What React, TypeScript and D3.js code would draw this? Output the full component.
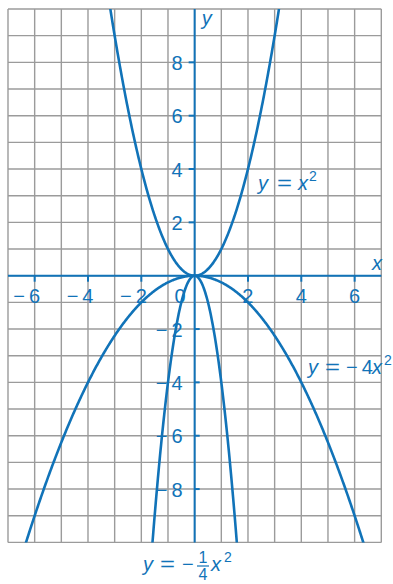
import * as d3 from "d3";
import { useEffect, useRef } from "react";

// axis ranges and tick labels
const xDomain = [-7, 7];
const yDomain = [-10, 10];
const xTickValues = [-6, -4, -2, 0, 2, 4, 6];
const yTickValues = [-8, -6, -4, -2, 2, 4, 6, 8];

// the three parabolas y = a * x^2
const curveCoefficients = [1, -1 / 4, -4];

const BLUE = "#1173b8";
const GRID = "#9b9b9b";
const FONT = "'Liberation Sans', Arial, Helvetica, sans-serif";

const fmt = (d: number) => (d < 0 ? "\u2212\u2009" + Math.abs(d) : String(d));

const App = () => {
  const svgRef = useRef<SVGSVGElement | null>(null);

  useEffect(() => {
    const svg = d3.select(svgRef.current);
    svg.selectAll("*").remove();

    // plot box
    const left = 8,
      right = 381.3,
      top = 9,
      bottom = 542.4;

    const x = d3.scaleLinear().domain(xDomain).range([left, right]);
    const y = d3.scaleLinear().domain(yDomain).range([bottom, top]);

    svg
      .append("defs")
      .append("clipPath")
      .attr("id", "plot-clip")
      .append("rect")
      .attr("x", left)
      .attr("y", top)
      .attr("width", right - left)
      .attr("height", bottom - top);

    // grid, one line per unit
    const grid = svg.append("g").attr("stroke", GRID).attr("stroke-width", 1.4);
    grid
      .selectAll("line.v")
      .data(d3.range(xDomain[0], xDomain[1] + 1))
      .enter()
      .append("line")
      .attr("x1", (d) => x(d))
      .attr("x2", (d) => x(d))
      .attr("y1", top)
      .attr("y2", bottom);
    grid
      .selectAll("line.h")
      .data(d3.range(yDomain[0], yDomain[1] + 1))
      .enter()
      .append("line")
      .attr("x1", left)
      .attr("x2", right)
      .attr("y1", (d) => y(d))
      .attr("y2", (d) => y(d));

    // axes
    const axes = svg.append("g").attr("stroke", BLUE).attr("stroke-width", 2);
    axes.append("line").attr("x1", left).attr("x2", right).attr("y1", y(0)).attr("y2", y(0));
    axes.append("line").attr("x1", x(0)).attr("x2", x(0)).attr("y1", top).attr("y2", bottom);

    // tick marks
    axes
      .selectAll("line.xt")
      .data(xTickValues.filter((d) => d !== 0))
      .enter()
      .append("line")
      .attr("x1", (d) => x(d))
      .attr("x2", (d) => x(d))
      .attr("y1", y(0))
      .attr("y2", y(0) + 6);
    axes
      .selectAll("line.yt")
      .data(yTickValues)
      .enter()
      .append("line")
      .attr("x1", x(0))
      .attr("x2", (d) => (d > 0 ? x(0) - 6 : x(0) + 5))
      .attr("y1", (d) => y(d))
      .attr("y2", (d) => y(d));

    // curves
    const line = d3
      .line<number[]>()
      .x((d) => x(d[0]))
      .y((d) => y(d[1]));
    const samples = d3.range(-7, 7.0001, 0.02);
    svg
      .append("g")
      .attr("clip-path", "url(#plot-clip)")
      .selectAll("path")
      .data(curveCoefficients)
      .enter()
      .append("path")
      .attr("d", (a) => line(samples.map((t) => [t, a * t * t])))
      .attr("fill", "none")
      .attr("stroke", BLUE)
      .attr("stroke-width", 2.6);

    // tick labels
    const labels = svg
      .append("g")
      .attr("fill", BLUE)
      .attr("font-family", FONT)
      .attr("font-size", 20);
    labels
      .selectAll("text.xl")
      .data(xTickValues)
      .enter()
      .append("text")
      .attr("x", (d) => (d === 0 ? x(0) - 9 : x(d) + 5.5))
      .attr("y", y(0) + 27)
      .attr("text-anchor", "end")
      .text(fmt);
    labels
      .selectAll("text.yl")
      .data(yTickValues)
      .enter()
      .append("text")
      .attr("x", x(0) - 12)
      .attr("y", (d) => y(d) + 7.5)
      .attr("text-anchor", "end")
      .text(fmt);

    // axis names
    labels
      .append("text")
      .attr("x", x(6.65))
      .attr("y", y(0) - 6)
      .attr("font-style", "italic")
      .text("x");
    labels
      .append("text")
      .attr("x", x(0) + 7)
      .attr("y", 25)
      .attr("font-style", "italic")
      .text("y");

    // curve names, each glyph group placed along the baseline
    const eq = (px: number[], py: number, coef: string) => {
      const g = labels.append("g");
      g.append("text").attr("x", px[0]).attr("y", py).attr("font-style", "italic").text("y");
      g.append("text")
        .attr("x", px[1])
        .attr("y", py)
        .attr("textLength", 15)
        .attr("lengthAdjust", "spacingAndGlyphs")
        .text("=");
      if (coef) g.append("text").attr("x", px[2]).attr("y", py).text(coef);
      g.append("text").attr("x", px[3]).attr("y", py).attr("font-style", "italic").text("x");
      g.append("text").attr("x", px[4]).attr("y", py - 9).attr("font-size", 14).text("2");
      return g;
    };
    eq([258, 277, 0, 298, 309], 190, "");
    eq([308, 325, 346, 372, 384], 374, "\u2212\u20094");

    // y = -1/4 x^2 with a stacked fraction
    const f = eq([143, 160, 182, 211, 224], 571, "\u2212");
    f.append("text").attr("x", 203).attr("y", 563).attr("font-size", 16).attr("text-anchor", "middle").text("1");
    f.append("text").attr("x", 203).attr("y", 580).attr("font-size", 16).attr("text-anchor", "middle").text("4");
    f.append("line")
      .attr("x1", 197)
      .attr("x2", 209)
      .attr("y1", 566)
      .attr("y2", 566)
      .attr("stroke", BLUE)
      .attr("stroke-width", 1.2);
  }, []);

  return (
    <svg
      ref={svgRef}
      width={393}
      height={584}
      style={{ position: "absolute", left: 0, top: 0, background: "#fff" }}
    ></svg>
  );
};

export default App;
